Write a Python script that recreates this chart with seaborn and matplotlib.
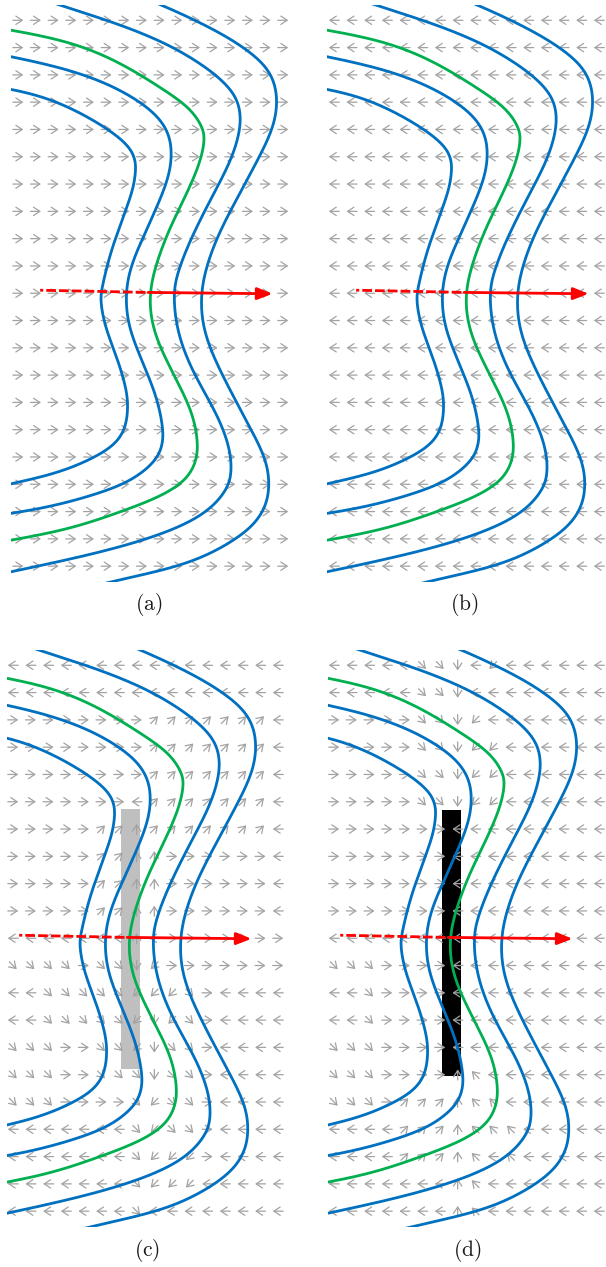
import numpy as np
import matplotlib
matplotlib.use("Agg")
import matplotlib.pyplot as plt
from matplotlib import transforms
import seaborn as sns

# ---------------- data ----------------
panel_labels = ["(a)", "(b)", "(c)", "(d)"]

# wave-front curves (x in grid columns, y in grid rows, row 0 at top)
c1_x = [-1.02, 1.81, 4.64, 6.17, 6.62, 6.68, 6.51, 5.94, 5.21, 4.75, 4.64, 4.92, 5.60, 6.17, 6.23, 6.06, 5.38, 3.68, 1.81, -1.02]
c1_y = [2.45, 2.82, 3.77, 4.51, 5.02, 5.49, 6.23, 7.22, 8.53, 9.78, 10.26, 11.25, 12.34, 13.55, 14.29, 15.02, 15.64, 16.23, 16.67, 17.07]
c2_x = [-1.02, 2.77, 5.60, 7.64, 8.49, 8.72, 8.60, 8.04, 7.07, 6.34, 6.06, 6.23, 7.07, 7.87, 8.21, 8.21, 7.87, 6.51, 4.64, 1.81, -1.02]
c2_y = [1.25, 1.76, 2.45, 3.30, 4.03, 4.76, 5.60, 6.59, 7.95, 9.05, 10.07, 11.25, 12.56, 13.81, 14.91, 15.49, 16.12, 16.85, 17.33, 17.84, 18.13]
cg_x = [-1.02, 2.77, 5.60, 8.04, 9.73, 10.47, 10.58, 10.30, 9.56, 8.60, 7.87, 7.36, 7.64, 8.77, 9.85, 10.19, 10.13, 9.56, 8.04, 5.60, 2.77, -1.02]
cg_y = [0.29, 0.73, 1.47, 2.45, 3.19, 3.92, 4.40, 5.24, 6.34, 7.58, 8.79, 10.07, 11.47, 12.93, 14.29, 15.38, 16.12, 16.85, 17.47, 18.06, 18.68, 19.12]
c4_x = [-0.17, 2.38, 5.60, 8.43, 10.70, 12.17, 12.62, 12.56, 12.00, 10.87, 9.73, 9.00, 8.77, 9.00, 9.90, 11.26, 12.00, 12.11, 11.83, 10.70, 8.43, 4.64, -1.02]
c4_y = [-1.10, -0.55, 0.11, 0.84, 1.72, 2.56, 3.30, 4.14, 5.24, 6.59, 8.06, 9.27, 10.07, 11.47, 12.93, 14.40, 15.64, 16.59, 17.22, 18.06, 18.79, 19.52, 20.29]
c5_x = [5.77, 8.21, 11.26, 13.30, 14.37, 14.71, 14.54, 13.87, 12.73, 11.43, 10.70, 10.30, 10.47, 11.60, 13.13, 14.09, 14.26, 13.98, 12.96, 10.30, 7.47, 5.38, 2.94]
c5_y = [-1.17, -0.55, 0.37, 1.21, 1.94, 2.82, 3.77, 4.76, 6.12, 7.69, 8.90, 10.07, 11.47, 13.08, 14.91, 16.12, 17.11, 17.95, 18.79, 19.78, 20.26, 20.55, 20.95]

# red ray: start, end of dashed part, tip
ray_x = [1.25, 7.36, 14.4]
ray_y = [9.89, 9.97, 10.02]

# barrier (c, d): x0, x1, y0, y1
bar_c = [7.04, 8.10, 5.28, 14.80]
bar_d = [7.04, 8.10, 5.30, 15.05]

# direction fields, 21 rows x 16 columns
field_a = ["→" * 16] * 21
field_b = ["←" * 16] * 21
field_c = [
    "←←←←←←←←←←←←←←←←",
    "←←←←←←←←←←←←←←←←",
    "→→→→→→→→↗↗↗↗↗↗↗←",
    "→→→→→→→→↗↗↗↗↗↗↗←",
    "→→→→→→→→↗↗↗↗↗↗↗←",
    "→→→→→→→←↗↗↗↗↗↗↗←",
    "→→→→→↗↗↑↗↗↗↗↗↗↗←",
    "→→→→→↗↗↑↑→→→→→→←",
    "→→→→→↗↗↑↑→→→→→→←",
    "→→→→→↗↗↑↑→→→→→→←",
    "←←←←←←←↑←→→→→→→→",
    "↘↘↘↘→↘↘↓↙→→→→→→→",
    "←←↘↘↘↘↘↙↙↙↘→←←←←",
    "←←↘↘↘↘↘↙↓↙↘→←←←←",
    "↘↘↘→→↘↘↙↓↘↘→←←←←",
    "↘↘↘→→↘↘↘↓↘↘→←←←←",
    "↘↘↘→→→→↘↙↘↘→←←←←",
    "←←←←←←←↘↙↘↘→←←←←",
    "←←←←←←←↘↙↙↙→←←←←",
    "←←←←←←←↘↙↙↙←←←←←",
    "←←←←←←←↘←←←←←←←←",
]
field_d = [
    "←←←←←↘↘↓←↙←←←←←←",
    "←←←←←↘↘↓←←←←←←←←",
    "→→→→→↘↘↓↙←←←←←←←",
    "→→→→→↘↘↓↙↙←←←←←←",
    "→→→→→↘↘↓↙↙←←←←←←",
    "→→→→→↘↘↓↙↙←←←←←←",
    "→→→→→→→←←←←←←←←←",
    "→→→→→→→←←←←←←←←←",
    "→→→→→→→←←←←←←←←←",
    "→→→→→→→←←←←←←←←←",
    "←←←←←←←←←←←←←←←←",
    "↘↘↘→→→→←←←←←←←←←",
    "←←↘→→→→←←←←←←←←←",
    "←←↘→→→→←←←←←←←←←",
    "↘↘↘→→→→←←←←←←←←←",
    "↘↘↘→→→→↑↖←←←←←←←",
    "↘↘↘→↗↗↗↑↖↖←←←←←←",
    "←←←←↗↗↗↑↖↖↖←←←←←",
    "←←←←↗↗↗↑↖←↖←←←←←",
    "←←←←←←←↑↖←←←←←←←",
    "←←←←←←←↑↖←←←←←←←",
]

# ---------------- styling ----------------
sns.set_theme(style="white")
plt.rcParams["mathtext.fontset"] = "cm"

BLUE = "#0070C0"
GREEN = "#00B050"
RED = "#FF0000"
ARROW = "#A3A3A3"

W, H = 606, 1267
fig = plt.figure(figsize=(W / 100, H / 100), dpi=100)

s2 = 1 / np.sqrt(2)
DIRS = {"→": (1, 0), "←": (-1, 0), "↑": (0, 1), "↓": (0, -1),
        "↗": (s2, s2), "↘": (s2, -s2), "↙": (-s2, -s2), "↖": (-s2, s2)}


def smooth(xs, ys, n=20):
    # clamped uniform cubic B-spline with the read points as control points
    P = np.column_stack([np.asarray(xs, float), np.asarray(ys, float)])
    P = np.vstack([P[0], P[0], P, P[-1], P[-1]])
    t = np.linspace(0, 1, n, endpoint=False)[:, None]
    b0 = (1 - t) ** 3 / 6
    b1 = (3 * t ** 3 - 6 * t ** 2 + 4) / 6
    b2 = (-3 * t ** 3 + 3 * t ** 2 + 3 * t + 1) / 6
    b3 = t ** 3 / 6
    segs = [b0 * P[i] + b1 * P[i + 1] + b2 * P[i + 2] + b3 * P[i + 3]
            for i in range(len(P) - 3)]
    C = np.vstack(segs + [P[-1][None, :]])
    return C[:, 0], C[:, 1]


curves = [(c1_x, c1_y, BLUE), (c2_x, c2_y, BLUE), (cg_x, cg_y, GREEN),
          (c4_x, c4_y, BLUE), (c5_x, c5_y, BLUE)]

PW, PH = 280, 577
panels = [
    dict(left=11, top=5, field=field_a, gx0=0.0, xlim=(-0.40, 15.45), bar=None),
    dict(left=327, top=5, field=field_b, gx0=0.0, xlim=(-0.40, 15.45), bar=None),
    dict(left=7, top=650, field=field_c, gx0=0.9, xlim=(0.56, 16.41), bar=(bar_c, "#BFBFBF")),
    dict(left=328, top=650, field=field_d, gx0=0.9, xlim=(0.56, 16.41), bar=(bar_d, "#000000")),
]

L = 10.5  # arrow length in pixels

for k, p in enumerate(panels):
    ax = fig.add_axes([p["left"] / W, 1 - (p["top"] + PH) / H, PW / W, PH / H])
    ax.set_xlim(*p["xlim"])
    ax.set_ylim(20.58, -0.56)
    ax.set_axis_off()

    if p["bar"] is not None:
        (x0, x1, y0, y1), col = p["bar"]
        ax.bar([(x0 + x1) / 2], [y1 - y0], bottom=[y0], width=x1 - x0,
               color=col, edgecolor="none", zorder=1)

    trans_cache = {}
    for ch, (ux, uy) in DIRS.items():
        th = transforms.offset_copy(ax.transData, fig=fig, x=ux * L / 2, y=uy * L / 2, units="dots")
        tt = transforms.offset_copy(ax.transData, fig=fig, x=-ux * L / 2, y=-uy * L / 2, units="dots")
        trans_cache[ch] = (th, tt)
    for r, row in enumerate(p["field"]):
        for c, ch in enumerate(row):
            cx, cy = p["gx0"] + c, float(r)
            th, tt = trans_cache[ch]
            ax.annotate("", xy=(cx, cy), xycoords=th, xytext=(cx, cy), textcoords=tt,
                        arrowprops=dict(arrowstyle="->,head_length=0.38,head_width=0.25",
                                        color=ARROW, lw=0.9, shrinkA=0, shrinkB=0),
                        zorder=2)

    for xs, ys, col in curves:
        sx, sy = smooth(xs, ys)
        sns.lineplot(x=sx, y=sy, sort=False, estimator=None, color=col,
                     linewidth=2.0, ax=ax, zorder=3)

    ax.plot(ray_x[:2], ray_y[:2], color=RED, lw=2.0,
            linestyle=(2.4, (3.5, 1.1)), solid_capstyle="butt", zorder=4)
    ax.annotate("", xy=(ray_x[2], ray_y[2]), xytext=(ray_x[1], ray_y[1]),
                arrowprops=dict(arrowstyle="-|>,head_length=0.75,head_width=0.3",
                                color=RED, lw=2.0, shrinkA=0, shrinkB=0),
                zorder=4)

    ax.set_xlabel("")
    ax.set_ylabel("")

label_pos = [(149, 605), (464, 605), (147, 1251), (467, 1251)]
for lab, (lx, ly) in zip(panel_labels, label_pos):
    fig.text(lx / W, 1 - ly / H, r"$\mathrm{" + lab + "}$", ha="center", va="center",
             fontsize=15.5, color="#1a1a1a")

fig.savefig("out.png", dpi=100)
